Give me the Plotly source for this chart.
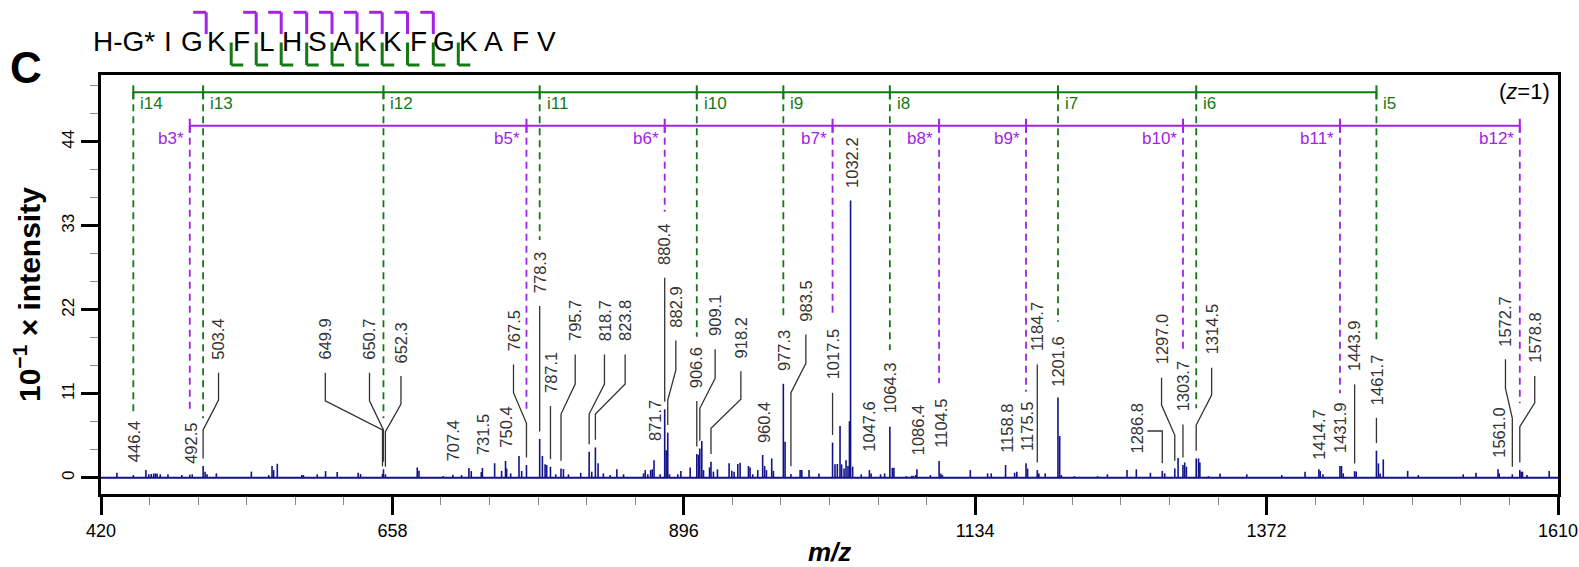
import plotly.graph_objects as go

# ---------------- data ----------------
# unlabelled peaks (m/z, 10^-1 x intensity)
other_mz = [433.0, 456.7, 459.0, 461.0, 463.0, 464.4, 465.8, 468.4, 474.7, 486.0, 494.5,
            505.0, 506.6, 514.2, 542.8, 557.0, 559.7, 561.0, 564.0, 584.0, 585.3, 596.6,
            603.4, 612.9, 630.0, 632.0, 678.3, 679.7, 699.5, 714.5, 720.5, 722.4, 730.6,
            741.5, 747.2, 751.3, 754.6, 761.4, 763.6, 780.5, 782.7, 784.0, 791.4, 797.7,
            801.8, 811.8, 820.8, 826.0, 830.3, 835.8, 841.3, 846.8, 863.1, 864.5, 866.6,
            868.9, 870.2, 876.7, 881.6, 884.3, 891.1, 893.6, 901.2, 908.0, 910.7, 912.1,
            917.0, 920.2, 923.5, 933.0, 935.2, 937.1, 940.1, 942.0, 948.8, 950.1, 952.3,
            956.4, 962.0, 963.5, 967.8, 969.2, 978.7, 991.0, 992.4, 998.3, 1006.4, 1019.5,
            1021.4, 1023.6, 1024.9, 1026.9, 1028.5, 1030.1, 1031.3, 1033.9, 1040.9, 1049.0,
            1056.7, 1060.0, 1066.3, 1067.6, 1077.7, 1082.1, 1083.4, 1085.3, 1097.4, 1106.0,
            1107.2, 1130.0, 1144.1, 1147.1, 1166.2, 1168.0, 1176.8, 1186.0, 1191.2, 1203.0,
            1204.4, 1215.0, 1234.0, 1242.0, 1258.0, 1265.6, 1277.1, 1288.8, 1299.7, 1305.1,
            1306.5, 1316.4, 1317.5, 1324.5, 1334.0, 1355.8, 1384.4, 1403.4, 1415.8, 1418.0,
            1433.2, 1434.6, 1445.2, 1463.3, 1464.7, 1467.3, 1487.2, 1495.9, 1532.6, 1543.0,
            1562.0, 1579.9, 1581.0, 1584.7, 1602.8]
other_int = [0.65, 1.0, 0.45, 0.5, 0.55, 0.55, 0.55, 0.45, 0.45, 0.35, 0.45,
             0.8, 0.45, 0.57, 0.8, 0.35, 1.53, 1.0, 1.83, 0.35, 0.35, 0.45,
             0.87, 0.74, 0.65, 0.48, 1.35, 0.9, 0.2, 0.35, 1.27, 0.87, 0.74,
             1.9, 0.9, 1.2, 0.57, 2.84, 0.9, 2.84, 1.75, 1.66, 0.45, 1.14,
             0.45, 0.65, 0.8, 1.9, 0.57, 0.35, 1.1, 0.45, 0.57, 1.0, 0.45,
             1.0, 1.1, 0.45, 3.6, 0.45, 0.45, 0.87, 1.35, 3.0, 4.8, 1.0,
             1.35, 0.8, 1.1, 1.9, 0.9, 0.8, 1.8, 1.97, 1.53, 1.35, 0.45,
             1.0, 1.53, 1.0, 2.53, 0.9, 4.7, 1.0, 1.0, 1.0, 0.57, 1.75,
             1.8, 6.77, 1.75, 1.22, 2.3, 1.53, 7.4, 1.44, 0.45, 0.57,
             0.45, 0.57, 1.3, 1.3, 0.2, 0.25, 0.25, 0.35, 0.35, 0.57,
             0.35, 1.0, 0.57, 0.57, 0.65, 0.8, 1.2, 0.57, 0.57, 5.46,
             0.35, 0.2, 0.2, 0.45, 1.0, 1.1, 0.65, 0.57, 2.6, 2.0,
             1.44, 2.53, 2.0, 0.2, 0.57, 0.45, 0.35, 0.8, 0.87, 0.45,
             1.53, 0.57, 0.8, 1.88, 0.57, 2.4, 0.9, 0.35, 0.45, 0.65,
             0.57, 0.8, 0.8, 0.35, 0.87]

# labelled peaks
lab_text = ["446.4", "492.5", "503.4", "649.9", "650.7", "652.3", "707.4", "731.5", "750.4",
            "767.5", "778.3", "787.1", "795.7", "818.7", "823.8", "871.7", "880.4", "882.9",
            "906.6", "909.1", "918.2", "960.4", "977.3", "983.5", "1017.5", "1032.2", "1047.6",
            "1064.3", "1086.4", "1104.5", "1158.8", "1175.5", "1184.7", "1201.6", "1286.8",
            "1297.0", "1303.7", "1314.5", "1414.7", "1431.9", "1443.9", "1461.7", "1561.0",
            "1572.7", "1578.8"]
lab_int = [0.35, 0.40, 1.53, 0.50, 1.10, 0.45, 0.40, 1.27, 2.20,
           1.66, 5.07, 1.44, 1.22, 3.40, 3.97, 2.30, 8.96, 5.90,
           3.10, 3.84, 2.10, 2.97, 12.3, 0.50, 4.60, 36.3, 1.00,
           6.68, 1.10, 2.18, 1.66, 1.90, 1.00, 10.5, 0.90,
           1.22, 1.66, 2.53, 1.10, 1.53, 0.87, 3.54, 1.10,
           0.45, 1.00]

# label layout: label centre (m/z), label base (intensity), leader type and bends
lab_pos_mz = [446.6, 492.9, 516.0, 603.2, 639.3, 665.0, 707.1, 731.9, 750.1,
              756.9, 778.3, 787.1, 807.3, 831.2, 848.1, 872.6, 880.4, 889.5,
              906.6, 921.6, 942.6, 961.1, 978.0, 995.7, 1017.5, 1033.3, 1047.6,
              1064.5, 1087.2, 1105.4, 1159.4, 1176.4, 1184.7, 1202.0, 1266.5,
              1286.2, 1303.7, 1327.1, 1414.8, 1431.9, 1443.9, 1461.7, 1561.6,
              1567.1, 1591.0]
lab_pos_y = [1.79, 1.53, 15.19, 15.19, 15.19, 14.76, 1.89, 2.75, 3.63,
             16.29, 23.93, 10.83, 17.6, 17.6, 17.6, 4.5, 27.63, 19.43,
             11.49, 18.26, 15.41, 4.28, 13.67, 20.22, 12.57, 37.68, 3.2,
             8.21, 2.67, 3.63, 2.97, 3.2, 16.29, 11.71, 2.97,
             14.54, 8.43, 15.85, 2.1, 2.97, 13.67, 9.3, 2.32,
             16.95, 14.76]
lab_leader = ["none", "none", "bend", "bend", "bend", "bend", "none", "none", "none",
              "bend", "line", "line", "bend", "bend", "bend", "none", "line", "bend",
              "line", "bend", "bend", "none", "none", "bend", "line", "none", "none",
              "none", "none", "none", "none", "none", "line", "none", "elbow",
              "bend", "line", "bend", "none", "none", "line", "line", "none",
              "bend", "bend"]
lab_bend_lo = [0, 0, 6.25, 6.25, 6.25, 6.02, 0, 0, 0,
               7.12, 0, 0, 8.34, 8.34, 8.34, 0, 0, 10.18,
               0, 9.09, 6.47, 0, 0, 11.13, 0, 0, 0,
               0, 0, 0, 0, 0, 0, 0, 6.12,
               5.59, 0, 6.9, 0, 0, 0, 0, 0,
               7.78, 6.68]
lab_bend_hi = [0, 0, 10.18, 10.08, 10.08, 9.65, 0, 0, 0,
               11.13, 0, 0, 12.27, 12.27, 12.27, 0, 0, 14.1,
               0, 13.02, 10.27, 0, 0, 14.98, 0, 0, 0,
               0, 0, 0, 0, 0, 0, 0, 0,
               9.52, 0, 10.83, 0, 0, 0, 0, 0,
               11.71, 9.82]

# fragment ladders
i_names = ["i14", "i13", "i12", "i11", "i10", "i9", "i8", "i7", "i6", "i5"]
i_mz = [446.4, 503.4, 650.7, 778.3, 906.6, 977.3, 1064.3, 1201.6, 1314.5, 1461.7]
i_dash_end = [8.64, 7.78, 7.78, 31.13, 18.47, 20.65, 16.72, 20.43, 9.09, 17.6]
b_names = ["b3*", "b5*", "b6*", "b7*", "b8*", "b9*", "b10*", "b11*", "b12*"]
b_mz = [492.5, 767.5, 880.4, 1017.5, 1104.5, 1175.5, 1303.7, 1431.9, 1578.8]
b_dash_end = [8.87, 8.64, 34.84, 21.31, 12.36, 11.26, 16.5, 11.05, 9.74]

# peptide sequence and observed cleavages (gap after residue index)
n_term = "H-G*"
residues = ["I", "G", "K", "F", "L", "H", "S", "A", "K", "K", "F", "G", "K", "A", "F", "V"]
b_gaps = [1, 3, 4, 5, 6, 7, 8, 9, 10]
i_gaps = [2, 3, 4, 5, 6, 7, 8, 9, 10, 11]

x_ticks = [420, 658, 896, 1134, 1372, 1610]
y_ticks = [0, 11, 22, 33, 44]

# ---------------- style / layout ----------------
W, H = 1579, 567
PX_L, PX_R, PX_T, PX_B = 101, 1558, 75, 494
X_RANGE = [420, 1610]
Y_RANGE = [-2.13, 52.74]
px_per_mz = (PX_R - PX_L) / (X_RANGE[1] - X_RANGE[0])
px_per_int = (PX_B - PX_T) / (Y_RANGE[1] - Y_RANGE[0])

GREEN = "#137a13"
PURPLE = "#a322e8"
NAVY = "#12128a"
LABEL_C = "#333333"
FONT = "Liberation Sans, Arial, sans-serif"
I_Y = 50.47
B_Y = 46.1
TICK_H = 7 / px_per_int
GAP_PEAK = 1.0
GAP_LABEL = 1.45

# pixel centres of the sequence letters (layout)
SEQ_Y = 41
NTERM_X = 124
RES_X = [168.3, 191.7, 216.7, 241.7, 266.7, 291.7, 317.7, 342.3, 367.7, 392.7,
         418.3, 444.3, 468.3, 493.3, 520.0, 546.7]


def xp(px):
    return (px - PX_L) / (PX_R - PX_L)


def yp(py):
    return (PX_B - py) / (PX_B - PX_T)


fig = go.Figure()

# spectrum sticks
all_mz = other_mz + [float(t) for t in lab_text]
all_int = other_int + lab_int
sx, sy = [], []
for m, v in zip(all_mz, all_int):
    sx += [m, m, None]
    sy += [0, v, None]
fig.add_trace(go.Scatter(x=[X_RANGE[0], X_RANGE[1]], y=[0, 0], mode="lines",
                         line=dict(color=NAVY, width=1.8), hoverinfo="skip"))
fig.add_trace(go.Scatter(x=sx, y=sy, mode="lines", line=dict(color=NAVY, width=1.6),
                         hoverinfo="skip"))

# leader lines
lx, ly = [], []
for t, v, pm, py_, kind, lo, hi in zip(lab_text, lab_int, lab_pos_mz, lab_pos_y,
                                       lab_leader, lab_bend_lo, lab_bend_hi):
    m = float(t)
    if kind == "line":
        lx += [m, m, None]
        ly += [v + GAP_PEAK, py_ - GAP_LABEL, None]
    elif kind == "bend":
        lx += [m, m, pm, pm, None]
        ly += [v + GAP_PEAK, lo, hi, py_ - GAP_LABEL, None]
    elif kind == "elbow":
        lx += [pm + 10 / px_per_mz, m, m, None]
        ly += [lo, lo, v + GAP_PEAK, None]
fig.add_trace(go.Scatter(x=lx, y=ly, mode="lines", line=dict(color=LABEL_C, width=1.3),
                         hoverinfo="skip"))


# ladders
def ladder(mzs, ends, yl, color):
    dx, dy = [], []
    for m, e in zip(mzs, ends):
        dx += [m, m, None]
        dy += [yl, e, None]
    fig.add_trace(go.Scatter(x=dx, y=dy, mode="lines",
                             line=dict(color=color, width=1.8, dash="7px,5px"),
                             hoverinfo="skip"))
    tx, ty = [min(mzs), max(mzs), None], [yl, yl, None]
    for m in mzs:
        tx += [m, m, None]
        ty += [yl - TICK_H, yl + TICK_H, None]
    fig.add_trace(go.Scatter(x=tx, y=ty, mode="lines", line=dict(color=color, width=2),
                             hoverinfo="skip"))


ladder(i_mz, i_dash_end, I_Y, GREEN)
ladder(b_mz, b_dash_end, B_Y, PURPLE)

ann = []
for n, m in zip(i_names, i_mz):
    ann.append(dict(x=m, y=I_Y, xref="x", yref="y", text=n, showarrow=False,
                    xanchor="left", yanchor="middle", xshift=5, yshift=-11,
                    font=dict(family=FONT, size=17, color=GREEN)))
for n, m in zip(b_names, b_mz):
    ann.append(dict(x=m, y=B_Y, xref="x", yref="y", text=n, showarrow=False,
                    xanchor="right", yanchor="middle", xshift=-4, yshift=-12.5,
                    font=dict(family=FONT, size=17, color=PURPLE)))

# peak labels
for t, pm, py_ in zip(lab_text, lab_pos_mz, lab_pos_y):
    ann.append(dict(x=pm, y=py_, xref="x", yref="y", text=t, showarrow=False,
                    textangle=-90, xanchor="center", yanchor="bottom",
                    font=dict(family=FONT, size=16.5, color=LABEL_C)))

# sequence
ann.append(dict(x=xp(NTERM_X), y=yp(SEQ_Y), xref="paper", yref="paper", text=n_term,
                showarrow=False, xanchor="center", yanchor="middle",
                font=dict(family=FONT, size=28, color="black")))
for r, x in zip(residues, RES_X):
    ann.append(dict(x=xp(x), y=yp(SEQ_Y), xref="paper", yref="paper", text=r,
                    showarrow=False, xanchor="center", yanchor="middle",
                    font=dict(family=FONT, size=28, color="black")))

shapes = []
for g in b_gaps:
    gx = (RES_X[g] + RES_X[g + 1]) / 2 + 2
    shapes.append(dict(type="line", xref="paper", yref="paper", x0=xp(gx - 13), x1=xp(gx),
                       y0=yp(12.3), y1=yp(12.3), line=dict(color=PURPLE, width=3)))
    shapes.append(dict(type="line", xref="paper", yref="paper", x0=xp(gx), x1=xp(gx),
                       y0=yp(12.3), y1=yp(34), line=dict(color=PURPLE, width=3)))
for g in i_gaps:
    gx = (RES_X[g] + RES_X[g + 1]) / 2 + 2
    shapes.append(dict(type="line", xref="paper", yref="paper", x0=xp(gx), x1=xp(gx),
                       y0=yp(42.5), y1=yp(65), line=dict(color=GREEN, width=3)))
    shapes.append(dict(type="line", xref="paper", yref="paper", x0=xp(gx), x1=xp(gx + 12),
                       y0=yp(65), y1=yp(65), line=dict(color=GREEN, width=3)))

# panel letter, charge, axis titles
ann.append(dict(x=xp(26), y=yp(67.5), xref="paper", yref="paper", text="<b>C</b>",
                showarrow=False, xanchor="center", yanchor="middle",
                font=dict(family=FONT, size=44, color="black")))
ann.append(dict(x=xp(1552), y=yp(92), xref="paper", yref="paper", text="(<i>z</i>=1)",
                showarrow=False, xanchor="right", yanchor="middle",
                font=dict(family=FONT, size=22, color="black")))
ann.append(dict(x=xp(27), y=yp(295), xref="paper", yref="paper",
                text="<b>10<sup>−1</sup> × intensity</b>", textangle=-90,
                showarrow=False, xanchor="center", yanchor="middle",
                font=dict(family=FONT, size=30, color="black")))
ann.append(dict(x=xp(829), y=yp(552), xref="paper", yref="paper",
                text="<b><i>m/z</i></b>", showarrow=False, xanchor="center",
                yanchor="middle", font=dict(family=FONT, size=26, color="black")))

fig.update_layout(
    width=W, height=H,
    margin=dict(l=PX_L, r=W - PX_R, t=PX_T, b=H - PX_B, pad=0, autoexpand=False),
    plot_bgcolor="white", paper_bgcolor="white",
    showlegend=False,
    annotations=ann, shapes=shapes,
    font=dict(family=FONT, color="black"),
)
fig.update_xaxes(range=X_RANGE, tickvals=x_ticks, ticktext=[str(v) for v in x_ticks],
                 automargin=False,
                 showgrid=False, zeroline=False, showline=True, linewidth=3,
                 linecolor="black", mirror=True, ticks="outside", ticklen=18,
                 tickwidth=3, tickcolor="black", tickfont=dict(size=18, family=FONT),
                 minor=dict(dtick=(x_ticks[1] - x_ticks[0]) / 6, tick0=x_ticks[0],
                            ticks="outside", ticklen=8, tickwidth=1, tickcolor="#8a8a8a",
                            showgrid=False))
fig.update_yaxes(range=Y_RANGE, tickvals=y_ticks, ticktext=[str(v) for v in y_ticks],
                 automargin=False,
                 showgrid=False, zeroline=False, showline=True, linewidth=3,
                 linecolor="black", mirror=True, ticks="outside", ticklen=17,
                 tickwidth=3, tickcolor="black", tickangle=-90,
                 tickfont=dict(size=17, family=FONT),
                 minor=dict(dtick=(y_ticks[1] - y_ticks[0]) / 3, tick0=0,
                            ticks="outside", ticklen=8, tickwidth=1, tickcolor="#8a8a8a",
                            showgrid=False))

fig.write_html("out.html")
